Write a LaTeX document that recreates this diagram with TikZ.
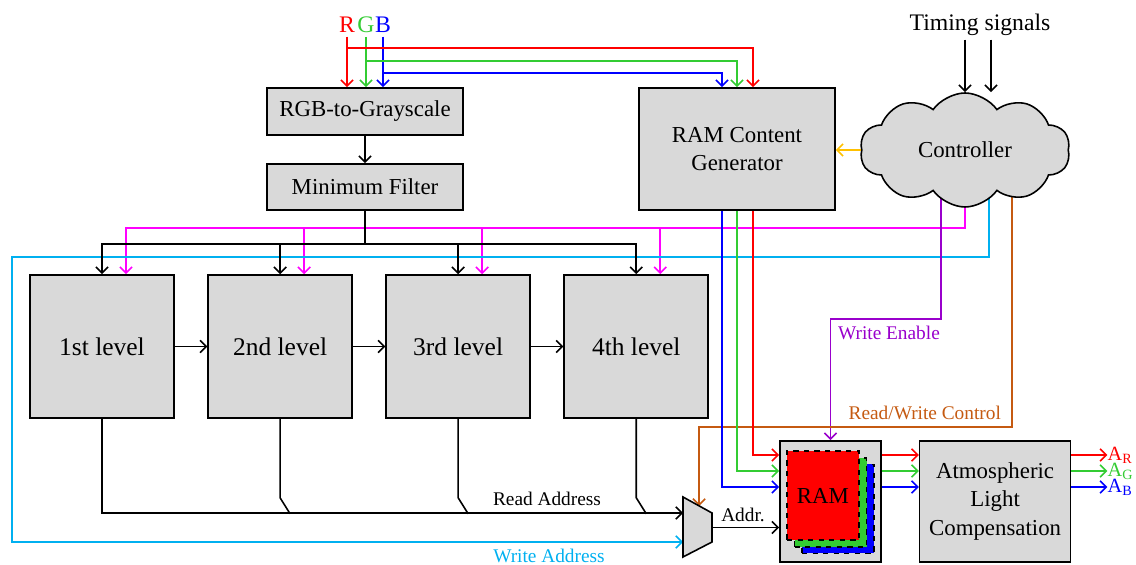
\documentclass[tikz,border=0pt]{standalone}
\usepackage{fontspec}
\setmainfont{Liberation Serif}
\usetikzlibrary{arrows.meta,positioning,shapes.symbols,backgrounds}

\definecolor{sigR}{RGB}{255,0,0}
\definecolor{sigG}{RGB}{51,204,51}
\definecolor{sigB}{RGB}{0,0,255}
\definecolor{sigM}{RGB}{255,0,255}
\definecolor{sigC}{RGB}{0,176,240}
\definecolor{sigP}{RGB}{153,0,204}
\definecolor{sigO}{RGB}{197,90,17}
\definecolor{sigY}{RGB}{255,192,0}
\definecolor{boxgray}{RGB}{217,217,217}

\tikzset{
	blockbox/.style={draw, line width=0.9pt, fill=boxgray, align=center, inner sep=0pt, font=\fontsize{13}{16}\selectfont},
	levelbox/.style={blockbox, minimum width=2.88cm, minimum height=2.86cm, font=\fontsize{14.5}{17}\selectfont},
	ramlayer/.style={draw, dashed, line width=0.7pt, minimum width=1.44cm, minimum height=1.78cm, inner sep=0pt, font=\fontsize{13}{16}\selectfont},
	wire/.style={line width=0.9pt, -{Straight Barb[length=3.5pt,width=7pt]}},
	plainwire/.style={line width=0.9pt},
	smalllabel/.style={inner sep=1pt, font=\fontsize{11}{13}\selectfont},
	biglabel/.style={inner sep=2pt, font=\fontsize{13.5}{16}\selectfont},
	outlabel/.style={inner sep=0pt, anchor=west, text height=6.5pt, text depth=0pt, font=\fontsize{11.5}{12}\selectfont}
}

\begin{document}
\begin{tikzpicture}
		%%%%% START %%%%%
		\useasboundingbox (0, 0) rectangle (22.72, 11.3);
		
		\node[biglabel, text=sigR] (inR) at (6.94, 10.8) {R};
		\node[biglabel, text=sigG] (inG) at (7.32, 10.8) {G};
		\node[biglabel, text=sigB] (inB) at (7.66, 10.8) {B};
		\node[biglabel] (tim) at (19.6, 10.8) {Timing signals};
		
		\node[blockbox, minimum width=3.92cm, minimum height=0.94cm] (rgb) at (7.3, 9.07) {RGB-to-Grayscale};
		\node[blockbox, minimum width=3.92cm, minimum height=0.92cm] (minf) at (7.3, 7.56) {Minimum Filter};
		\node[blockbox, minimum width=3.92cm, minimum height=2.44cm] (rcg) at (14.74, 8.32) {RAM Content\\Generator};
		\node[cloud, cloud puffs=10, cloud puff arc=110, aspect=1.85, draw, line width=0.9pt, fill=boxgray, minimum width=4.2cm, minimum height=2.28cm, inner sep=0pt, font=\fontsize{13}{16}\selectfont] (ctrl) at (19.3, 8.3) {Controller};
		
		\node[levelbox] (lv1) at (2.04, 4.37) {1st level};
		\node[levelbox, right=0.65cm of lv1] (lv2) {2nd level};
		\node[levelbox, right=0.65cm of lv2] (lv3) {3rd level};
		\node[levelbox, right=0.65cm of lv3] (lv4) {4th level};
		
		\node[blockbox, minimum width=2.02cm, minimum height=2.42cm] (ram) at (16.61, 1.27) {};
		\node[ramlayer, fill=sigB] (layB) at (16.76, 1.12) {};
		\node[ramlayer, fill=sigG] (layG) at (16.61, 1.25) {};
		\node[ramlayer, fill=sigR] (layR) at (16.46, 1.39) {RAM};
		\node[blockbox, minimum width=3.02cm, minimum height=2.42cm, right=0.74cm of ram] (alc) {Atmospheric\\Light\\Compensation};
		
		% address mux
		\draw[line width=0.9pt, fill=boxgray] (13.66, 1.36) -- (14.24, 1.04) -- (14.24, 0.46) -- (13.66, 0.16) -- cycle;
		\coordinate (mux1) at (13.66, 1.04);
		\coordinate (mux2) at (13.66, 0.46);
		\coordinate (muxO) at (14.24, 0.75);
		\coordinate (muxT) at (13.98, 1.18);
		
		\node[smalllabel] (lblRA) at (10.94, 1.32) {Read Address};
		\node[smalllabel, text=sigC] (lblWA) at (10.98, 0.18) {Write Address};
		\node[smalllabel] (lblAd) at (14.86, 1.0) {Addr.};
		\node[smalllabel, text=sigP, anchor=west] (lblWE) at (16.72, 4.64) {Write Enable};
		\node[smalllabel, text=sigO, anchor=east] (lblRW) at (20.06, 3.04) {Read/Write Control};
		
		\coordinate (aR) at ([yshift=0.93cm]alc.east);
		\coordinate (aG) at ([yshift=0.61cm]alc.east);
		\coordinate (aB) at ([yshift=0.29cm]alc.east);
		\node[outlabel, text=sigR] (outR) at ([xshift=0.72cm]aR) {A\textsubscript{R}};
		\node[outlabel, text=sigG] (outG) at ([xshift=0.72cm]aG) {A\textsubscript{G}};
		\node[outlabel, text=sigB] (outB) at ([xshift=0.72cm]aB) {A\textsubscript{B}};
		
		% input colours
		\draw[wire, sigR] (inR.south) -- (inR.south |- rgb.north);
		\draw[wire, sigG] (inG.south) -- (inG.south |- rgb.north);
		\draw[wire, sigB] (inB.south) -- (inB.south |- rgb.north);
		\draw[wire, sigR] (inR |- 0, 10.34) -| ([xshift=0.32cm]rcg.north);
		\draw[wire, sigG] (inG |- 0, 10.08) -| (rcg.north);
		\draw[wire, sigB] (inB |- 0, 9.84) -| ([xshift=-0.3cm]rcg.north);
		
		\draw[wire] (rgb) -- (minf);
		\foreach \i in {1,...,4}
			\draw[wire] (minf.south) -- ++(0, -0.66) -| (lv\i.north);
		\draw[wire] (lv1) -- (lv2);
		\draw[wire] (lv2) -- (lv3);
		\draw[wire] (lv3) -- (lv4);
		
		% read address
		\draw[wire] (lv1.south) |- (mux1);
		\foreach \i in {2,3,4}
			\draw[plainwire] (lv\i.south) -- ++(0, -1.58) -- ++(0.2, -0.32);
		\draw[wire] (muxO) -- (muxO -| ram.west);
		
		% controller signals
		\draw[wire] (ctrl.north |- tim.south) -- (ctrl.north);
		\coordinate (t2) at ([xshift=0.52cm]ctrl.north);
		\draw[wire] (t2 |- tim.south) -- (t2);
		\draw[wire, sigY] (ctrl.west) -- (ctrl.west -| rcg.east);
		
		\begin{scope}[on background layer]
			\foreach \i in {1,...,4}
				\draw[wire, sigM] (ctrl.center) -- (ctrl.center |- 0, 6.74) -| ([xshift=0.48cm]lv\i.north);
			\draw[wire, sigC] ([xshift=0.48cm]ctrl.center) |- (0.24, 6.16) |- (mux2);
			\draw[wire, sigP] ([xshift=-0.48cm]ctrl.center) |- (ram.north |- 0, 4.92) -- (ram.north);
			\draw[wire, sigO] ([xshift=0.94cm]ctrl.center) |- (muxT |- 0, 2.76) -- (muxT);
		\end{scope}
		
		% RAM content
		\draw[wire, sigR] ([xshift=0.32cm]rcg.south) |- ([yshift=0.93cm]ram.west);
		\draw[wire, sigG] (rcg.south) |- ([yshift=0.61cm]ram.west);
		\draw[wire, sigB] ([xshift=-0.3cm]rcg.south) |- ([yshift=0.29cm]ram.west);
		\draw[wire, sigR] ([yshift=0.93cm]ram.east) -- (aR -| alc.west);
		\draw[wire, sigG] ([yshift=0.61cm]ram.east) -- (aG -| alc.west);
		\draw[wire, sigB] ([yshift=0.29cm]ram.east) -- (aB -| alc.west);
		\draw[wire, sigR] (aR) -- (outR.west);
		\draw[wire, sigG] (aG) -- (outG.west);
		\draw[wire, sigB] (aB) -- (outB.west);
		
		%%%%% END %%%%%
\end{tikzpicture}
\end{document}
